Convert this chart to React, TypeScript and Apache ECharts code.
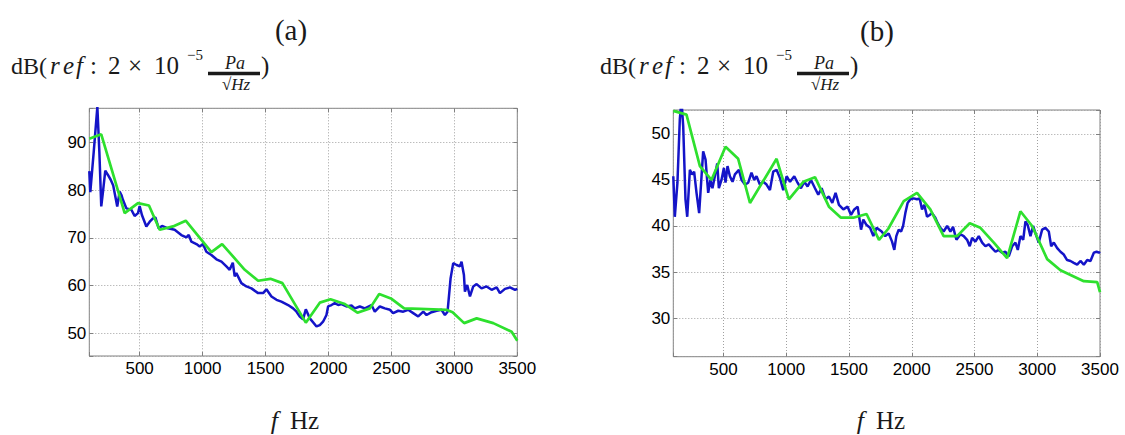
import React, { useEffect, useRef } from "react";
import * as echarts from "echarts";

// ---------- data (frequency in Hz, level in dB) ----------
const blueAFreq = [100,108,135,164,180,195,210,227,248,270,290,322,341,355,367,394,434,460,487,500,518,553,580,606,625,651,678,725,778,831,871,890,911,951,977,1003,1030,1070,1110,1150,1189,1215,1240,1255,1268,1308,1348,1388,1441,1481,1507,1547,1587,1626,1679,1719,1746,1772,1798,1820,1852,1905,1931,1957,1984,1997,2024,2050,2077,2103,2143,2183,2209,2249,2289,2342,2368,2408,2448,2488,2514,2554,2594,2633,2673,2713,2753,2779,2819,2859,2898,2925,2946,2970,2991,3018,3044,3057,3076,3084,3102,3124,3150,3177,3216,3256,3296,3336,3362,3402,3442,3482,3500];
const blueALevel = [84.0,79.6,88.0,97.5,88.0,76.6,80.0,84.1,83.2,82.2,81.0,76.6,79.7,79.0,78.0,76.2,75.9,74.6,75.2,76.7,74.8,72.4,73.4,74.1,74.3,72.0,72.5,72.0,71.7,70.6,70.1,70.6,69.2,68.7,68.2,68.7,67.1,66.4,65.5,65.0,64.0,63.3,64.8,61.9,62.6,60.5,59.8,59.4,58.4,58.4,59.2,57.7,57.0,56.6,55.9,55.2,54.5,53.5,52.9,55.0,53.1,51.4,51.7,52.4,53.8,55.6,55.9,56.3,55.9,56.1,55.6,55.8,55.2,55.6,55.2,55.9,54.5,55.6,55.2,54.9,54.2,54.7,54.5,54.9,54.2,53.5,54.5,53.8,54.4,54.7,54.9,53.8,54.5,61.5,64.7,64.3,64.0,65.0,62.2,58.7,60.1,57.7,59.8,60.3,59.4,59.8,59.1,59.6,58.4,59.3,59.6,59.1,59.3];

const greenAFreq = [100,195,381,487,574,659,765,866,1070,1155,1335,1441,1539,1634,1820,1931,2016,2130,2230,2329,2403,2501,2601,2726,2938,2986,3078,3177,3309,3455,3500];
const greenALevel = [90.8,91.75,75.2,77.3,76.8,71.7,72.4,73.6,67.0,68.7,63.3,61.0,61.4,60.5,52.2,56.4,57.1,56.1,54.3,55.2,58.2,57.2,55.2,55.1,54.9,54.4,52.1,53.1,52.1,50.3,48.4];

const blueBFreq = [100,112,133,152,165,179,197,211,232,250,266,285,306,325,338,357,378,396,412,431,450,463,484,503,516,532,551,572,591,623,644,671,697,723,745,763,790,817,843,870,896,923,950,976,1003,1030,1064,1090,1117,1144,1170,1197,1229,1255,1282,1313,1340,1367,1393,1420,1455,1489,1516,1542,1569,1596,1614,1640,1668,1694,1720,1760,1789,1816,1843,1861,1877,1896,1915,1931,1949,1967,1989,2015,2042,2063,2082,2100,2122,2143,2162,2188,2207,2228,2254,2282,2308,2329,2356,2388,2414,2441,2462,2481,2507,2534,2561,2587,2614,2640,2667,2693,2720,2746,2773,2800,2826,2845,2866,2888,2906,2924,2946,2967,2986,3012,3039,3065,3092,3111,3132,3159,3185,3211,3238,3265,3291,3318,3344,3371,3398,3424,3451,3473,3491,3500];
const blueBLevel = [45.4,41.0,44.7,51.6,53.7,50.8,42.9,41.0,46.1,45.6,45.9,43.6,41.4,45.4,48.1,47.2,43.6,45.0,44.1,45.4,46.8,44.1,45.0,46.3,44.7,46.5,45.4,44.8,45.6,46.1,45.0,44.5,44.7,45.8,45.0,45.4,44.5,44.8,44.5,43.9,45.9,46.1,45.2,43.9,45.4,44.8,45.4,44.7,44.1,44.8,44.3,45.0,44.1,43.4,44.1,42.9,43.2,42.5,43.6,42.3,41.8,42.1,41.2,41.8,42.1,39.6,40.7,40.1,39.8,38.9,39.8,39.4,38.9,39.2,38.3,37.4,38.9,39.6,39.4,40.0,41.4,42.5,42.9,43.0,42.9,43.0,41.8,42.3,41.0,41.2,41.4,40.9,40.3,39.8,39.4,40.0,39.4,39.9,38.5,39.1,38.9,38.5,37.8,38.7,38.3,38.9,38.2,37.8,38.0,37.6,37.2,37.4,37.1,37.2,36.7,37.8,38.2,37.4,38.9,38.5,40.5,40.1,38.9,40.0,39.2,38.2,39.6,39.8,39.4,37.8,38.2,37.6,37.2,36.9,36.3,36.2,36.0,35.8,36.2,35.8,36.3,36.2,37.1,37.2,37.1,37.2];

const greenBFreq = [100,205,312,404,516,617,711,923,1021,1136,1229,1340,1436,1534,1640,1739,1813,1936,2042,2148,2254,2361,2462,2547,2654,2760,2866,2959,3079,3185,3371,3478,3500];
const greenBLevel = [52.5,52.1,46.5,45.0,48.6,47.3,42.5,47.3,42.9,44.8,45.3,42.1,40.9,40.9,41.3,38.5,39.7,42.7,43.6,41.8,38.9,38.9,40.3,39.8,38.2,36.5,41.6,40.0,36.4,35.2,34.0,33.9,32.8];

const panelTitles = ["(a)", "(b)"];
const xAxisTitle = "Hz";
const xTicksStep = 500;
const yStepA = 10;
const yStepB = 5;

const zip = (xs: number[], ys: number[]) => xs.map((x, i) => [x, ys[i]]);

const SERIF = "'Liberation Serif', 'DejaVu Serif', serif";
const SANS = "'Liberation Sans', Arial, sans-serif";
const BOX = "#808080";
const INK = "#1a1a1a";

function makeAxes(gridIndex: number, ymin: number, ymax: number, ystep: number) {
  const xFmt = (v: number) => (Math.abs(v % xTicksStep) < 1e-6 ? String(v) : "");
  const yFmt = (v: number) => (Math.abs(v % ystep) < 1e-6 ? String(v) : "");
  const xBase = {
    type: "value", gridIndex, min: 100, max: 3500,
    minInterval: xTicksStep, maxInterval: xTicksStep, splitNumber: 7,
    axisLine: { show: false },
  };
  const yBase = {
    type: "value", gridIndex, min: ymin, max: ymax,
    minInterval: ystep, maxInterval: ystep, splitNumber: 5,
    axisLine: { show: false },
  };
  const x = [
    {
      ...xBase, position: "bottom",
      axisTick: { show: true, inside: true, length: 4, lineStyle: { color: BOX } },
      axisLabel: { formatter: xFmt, color: "#000", fontFamily: SANS, fontSize: 17, margin: 4, showMinLabel: true, showMaxLabel: true, hideOverlap: false },
      splitLine: { show: true, lineStyle: { type: [1, 2], color: "#a0a0a0", width: 1 } },
    },
    {
      ...xBase, position: "top",
      axisTick: { show: true, inside: true, length: 4, lineStyle: { color: BOX } },
      axisLabel: { show: false },
      splitLine: { show: false },
    },
  ];
  const y = [
    {
      ...yBase, position: "left",
      axisTick: { show: true, inside: true, length: 4, lineStyle: { color: BOX } },
      axisLabel: { formatter: yFmt, color: "#000", fontFamily: SANS, fontSize: 17, margin: 3, showMinLabel: true, showMaxLabel: true, hideOverlap: false },
      splitLine: { show: true, lineStyle: { type: [1, 2], color: "#a0a0a0", width: 1 } },
    },
    {
      ...yBase, position: "right",
      axisTick: { show: true, inside: true, length: 4, lineStyle: { color: BOX } },
      axisLabel: { show: false },
      splitLine: { show: false },
    },
  ];
  return { x, y };
}

function dbLabel(dx: number) {
  const main = { fontFamily: SERIF, fontSize: 25, fill: INK, verticalAlign: "middle", align: "left" };
  const small = { fontFamily: SERIF, fontSize: 17, fill: INK, verticalAlign: "middle", align: "center" };
  const yMid = 65.5;
  const t = (x: number, y: number, style: any) => ({ type: "text", x: dx + x, y, style });
  return [
    t(11, yMid, { ...main, fontSize: 24, text: "dB(" }),
    t(50, yMid, { ...main, text: "r", fontStyle: "italic" }),
    t(63, yMid, { ...main, text: "e", fontStyle: "italic" }),
    t(76, yMid, { ...main, text: "f", fontStyle: "italic" }),
    t(90, yMid, { ...main, text: ":" }),
    t(108, yMid, { ...main, text: "2" }),
    t(128, yMid, { ...main, text: "×" }),
    t(154, yMid, { ...main, text: "10" }),
    t(195, 55, { ...small, fontSize: 15, text: "−5" }),
    t(235, 62.5, { ...small, fontSize: 18, text: "Pa", fontStyle: "italic" }),
    { type: "line", shape: { x1: dx + 208, y1: 73.5, x2: dx + 260, y2: 73.5 }, style: { stroke: INK, lineWidth: 3.5 } },
    t(236, 84.5, { ...small, text: "√Hz", fontStyle: "italic" }),
    t(261, yMid, { ...main, text: ")" }),
  ];
}

function fLabel(cx: number) {
  return [
    { type: "text", x: cx - 16, y: 420, style: { text: "f", fontFamily: SERIF, fontStyle: "italic", fontSize: 26, fill: INK, align: "right", verticalAlign: "middle" } },
    { type: "text", x: cx - 4, y: 420, style: { text: xAxisTitle, fontFamily: SERIF, fontSize: 25, fill: INK, align: "left", verticalAlign: "middle" } },
  ];
}

export default function App() {
  const ref = useRef<HTMLDivElement>(null);
  useEffect(() => {
    if (!ref.current) return;
    const chart = echarts.init(ref.current, undefined, { renderer: "svg" });
    const a = makeAxes(0, 45.2, 97.2, yStepA);
    const b = makeAxes(1, 25.8, 52.6, yStepB);
    const blue = { color: "#1414c8", width: 2.5 };
    const green = { color: "#2ee02e", width: 2.7 };
    const option = {
      animation: false,
      backgroundColor: "#ffffff",
      grid: [
        { left: 89.3, top: 108.3, width: 428, height: 247.7, show: true, borderColor: BOX, borderWidth: 1, backgroundColor: "transparent" },
        { left: 673.3, top: 110, width: 426.7, height: 246.7, show: true, borderColor: BOX, borderWidth: 1, backgroundColor: "transparent" },
      ],
      xAxis: [...a.x, ...b.x],
      yAxis: [...a.y, ...b.y],
      series: [
        { type: "line", xAxisIndex: 0, yAxisIndex: 0, data: zip(blueAFreq, blueALevel), showSymbol: false, symbol: "none", lineStyle: blue, itemStyle: { color: blue.color }, clip: true },
        { type: "line", xAxisIndex: 0, yAxisIndex: 0, data: zip(greenAFreq, greenALevel), showSymbol: false, symbol: "none", lineStyle: green, itemStyle: { color: green.color }, clip: true },
        { type: "line", xAxisIndex: 2, yAxisIndex: 2, data: zip(blueBFreq, blueBLevel), showSymbol: false, symbol: "none", lineStyle: blue, itemStyle: { color: blue.color }, clip: true },
        { type: "line", xAxisIndex: 2, yAxisIndex: 2, data: zip(greenBFreq, greenBLevel), showSymbol: false, symbol: "none", lineStyle: green, itemStyle: { color: green.color }, clip: true },
      ],
      graphic: [
        { type: "text", x: 291, y: 30, style: { text: panelTitles[0], fontFamily: SERIF, fontSize: 29, fill: INK, align: "center", verticalAlign: "middle" } },
        { type: "text", x: 877, y: 31, style: { text: panelTitles[1], fontFamily: SERIF, fontSize: 29, fill: INK, align: "center", verticalAlign: "middle" } },
        ...dbLabel(0),
        ...dbLabel(589),
        ...fLabel(294),
        ...fLabel(880),
      ],
    };
    chart.setOption(option as any);
    return () => chart.dispose();
  }, []);
  return (
    <div
      ref={ref}
      style={{ position: "fixed", left: 0, top: 0, width: 1125, height: 435, background: "#fff" }}
    />
  );
}
